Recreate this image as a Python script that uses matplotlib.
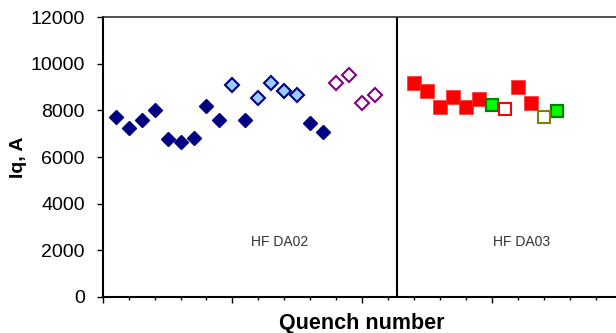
import matplotlib
matplotlib.use('Agg')
import matplotlib.pyplot as plt
from matplotlib.ticker import MultipleLocator, NullFormatter

plt.rcParams['font.family'] = ['Liberation Sans', 'DejaVu Sans']

# HFDA02
dark_x = [1, 2, 3, 4, 5, 6, 7, 8, 9, 11, 16, 17]
dark_y = [7700, 7260, 7590, 8020, 6760, 6660, 6830, 8200, 7590, 7590, 7450, 7090]
light_x = [10, 12, 13, 14, 15]
light_y = [9080, 8550, 9170, 8840, 8650]
purple_x = [18, 19, 20, 21]
purple_y = [9170, 9520, 8310, 8650]

# HFDA03
red_x = [24, 25, 26, 27, 28, 29, 32, 33]
red_y = [9170, 8820, 8140, 8570, 8140, 8480, 9000, 8310]
green_x = [30, 35]
green_y = [8220, 7960]
red_open_x = [31]
red_open_y = [8050]
olive_x = [34]
olive_y = [7710]

separator = 22.65
labels = ['HF DA02', 'HF DA03']
label_x = [13.6, 32.3]
label_y = [2350, 2350]

fig = plt.figure(figsize=(6.16, 3.33), dpi=100)
ax = fig.add_axes([0.1667, 0.109, 0.8425, 0.839])

ax.plot(dark_x, dark_y, 'D', ms=7.3, mfc='#000080', mec='#000080', mew=1)
ax.plot(light_x, light_y, 'D', ms=6.8, mfc='#99CCFF', mec='#000080', mew=1.5)
ax.plot(purple_x, purple_y, 'D', ms=7, mfc='white', mec='#800080', mew=1.5)
ax.plot(red_x, red_y, 's', ms=10, mfc='#FF0000', mec='#FF3030', mew=0.5)
ax.plot(green_x, green_y, 's', ms=9, mfc='#00FF00', mec='#008000', mew=1.6)
ax.plot(red_open_x, red_open_y, 's', ms=8.5, mfc='white', mec='#FF0000', mew=1.5)
ax.plot(olive_x, olive_y, 's', ms=8.5, mfc='white', mec='#808000', mew=1.5)

ax.axvline(separator, color='black', lw=1.5)

for t, x, y in zip(labels, label_x, label_y):
    ax.text(x, y, t, fontsize=10, color='#333333', ha='center', va='center')

ax.set_xlim(0, 40)
ax.set_ylim(0, 12000)
ax.yaxis.set_major_locator(MultipleLocator(2000))
ax.xaxis.set_major_locator(MultipleLocator(10))
ax.xaxis.set_minor_locator(MultipleLocator(2))
ax.xaxis.set_major_formatter(NullFormatter())

ax.tick_params(axis='y', direction='out', length=4.3, width=1, pad=8.5, labelsize=14)
ax.tick_params(axis='x', which='major', direction='out', length=4, width=1)
ax.tick_params(axis='x', which='minor', direction='out', length=2.5, width=1)

for s in ['left', 'bottom']:
    ax.spines[s].set_linewidth(1.5)
ax.spines['top'].set_linewidth(1.2)
ax.spines['top'].set_color('#333333')
ax.spines['right'].set_visible(False)

ax.set_ylabel('Iq, A', fontsize=14, fontweight='bold')
ax.yaxis.set_label_coords(-0.146, 0.5)
ax.set_xlabel('Quench number', fontsize=15.5, fontweight='bold')
ax.xaxis.set_label_coords(0.5, -0.058)

fig.savefig('out.png', dpi=100)
